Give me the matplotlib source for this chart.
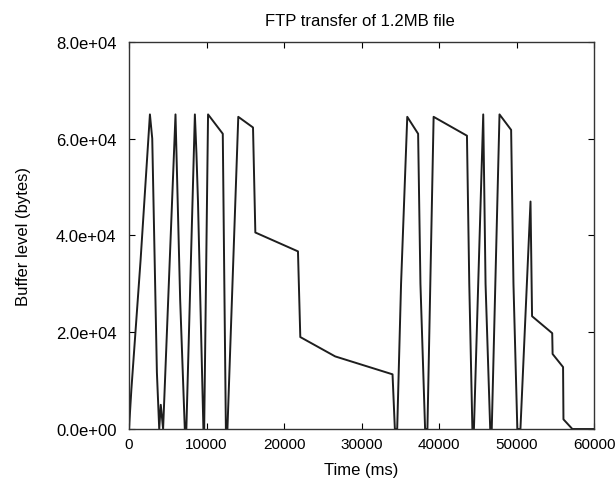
import matplotlib
matplotlib.use("Agg")
import matplotlib.pyplot as plt
from matplotlib.ticker import FuncFormatter

# buffer trace (time in ms, level in bytes)
time_ms = [0, 300, 1500, 2700, 3000, 3600, 3900, 4100, 4400,
           6000, 6600, 7200,
           7400, 8500, 8700, 8900, 9300, 9600,
           9700, 10200, 12100, 12300, 12500,
           12700, 14100, 16000, 16300, 21800, 22100, 26600, 34000, 34300,
           34600, 35100, 35900, 37300, 37600, 38200,
           38500, 39300, 43600, 43900, 44300,
           44500, 45700, 46000, 46600,
           46800, 47800, 49300, 49600, 50100,
           50500, 51800, 52000, 54600, 54650, 56000, 56050, 57200, 60000]
level = [0, 8000, 35000, 65000, 60000, 11700, 0, 5000, 0,
         65000, 26800, 0,
         0, 65000, 57000, 47000, 20000, 0,
         0, 65000, 61000, 30000, 0,
         0, 64500, 62300, 40600, 36700, 19000, 15000, 11300, 0,
         0, 30000, 64500, 61000, 30000, 0,
         0, 64500, 60600, 30000, 0,
         0, 65000, 30000, 0,
         0, 65000, 61800, 30000, 0,
         0, 47000, 23300, 19800, 15500, 12800, 2000, 0, 0]

plt.rcParams["font.family"] = ["Liberation Sans", "DejaVu Sans"]
fig = plt.figure(figsize=(6.16, 4.81), dpi=100)
ax = fig.add_axes([0.2094, 0.106, 0.755, 0.805])

ax.plot(time_ms, level, color="#1e1e1e", linewidth=1.4)

ax.set_xlim(0, 60000)
ax.set_ylim(0, 80000)
ax.set_xticks(range(0, 60001, 10000))
ax.set_yticks(range(0, 80001, 20000))
ax.yaxis.set_major_formatter(FuncFormatter(lambda v, p: "%.1e" % v))
ax.tick_params(direction="in", top=True, right=True, length=4)
ax.tick_params(axis="y", pad=9, labelsize=12)
ax.tick_params(axis="x", pad=6, labelsize=11)
for s in ax.spines.values():
    s.set_linewidth(1.0)
    s.set_color("#333333")

fig.text(0.585, 1 - 21 / 481, "FTP transfer of 1.2MB file", fontsize=12,
         ha="center", va="center")
ax.set_xlabel("Time (ms)", fontsize=12)
ax.set_ylabel("Buffer level (bytes)", fontsize=12)
ax.xaxis.set_label_coords(0.5, -0.085)
ax.yaxis.set_label_coords(-0.211, 0.5)

fig.savefig("out.png", dpi=100)
